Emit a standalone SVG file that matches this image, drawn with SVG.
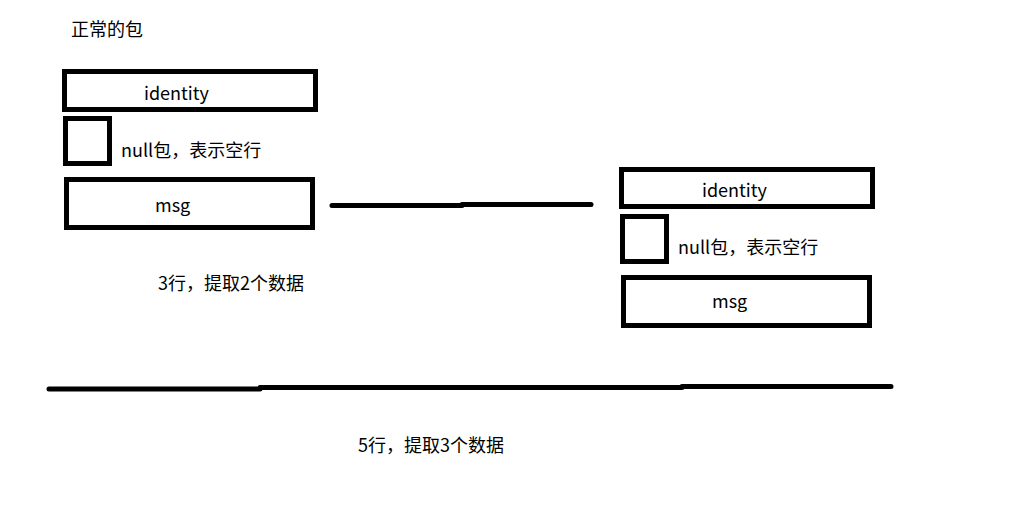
<svg xmlns="http://www.w3.org/2000/svg" width="1035" height="532" viewBox="0 0 1035 532">
<style>
.box{fill:none;stroke:#000;stroke-width:5}
.ln{fill:none;stroke:#000;stroke-width:5;stroke-linecap:round;stroke-linejoin:round}
text{font-family:"Noto Sans CJK SC","Noto Sans",sans-serif;font-size:18px;fill:#000}
</style>
<rect width="1035" height="532" fill="#fff"/>
<text x="71" y="36">正常的包</text>
<g id="left-identity"><rect class="box" x="64.5" y="71.5" width="251" height="38"/><text x="144" y="100">identity</text></g>
<g id="left-null"><rect class="box" x="65.5" y="118.5" width="44" height="45"/><text x="121" y="157">null包，表示空行</text></g>
<g id="left-msg"><rect class="box" x="66.5" y="179.5" width="246" height="48"/><text x="155" y="212">msg</text></g>
<text x="158" y="290">3行，提取2个数据</text>
<g id="right-identity"><rect class="box" x="621.5" y="169.5" width="251" height="37"/><text x="702" y="197">identity</text></g>
<g id="right-null"><rect class="box" x="622.5" y="216.5" width="44" height="45"/><text x="678" y="254">null包，表示空行</text></g>
<g id="right-msg"><rect class="box" x="623.5" y="277.5" width="246" height="48"/><text x="712" y="308">msg</text></g>
<g id="connectors">
<polyline class="ln" points="332,205.5 462,205.5 462,204.5 591,204.5"/>
<polyline class="ln" points="49,389 260,389 260,387.5 682,387.5 682,386.5 891,386.5"/>
</g>
<text x="358" y="452">5行，提取3个数据</text>
</svg>
